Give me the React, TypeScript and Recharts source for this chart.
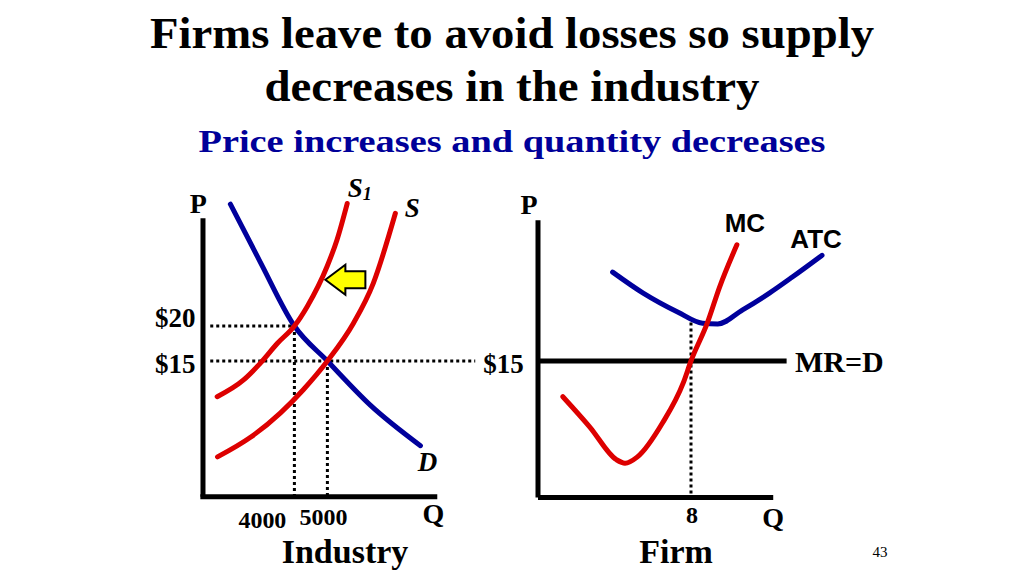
import { LineChart, Line, XAxis, YAxis, ReferenceLine, ReferenceDot } from "recharts";

// industry: quantity vs price
const demand = [
  { q: 2060, p: 37.4 },
  { q: 2970, p: 29.1 },
  { q: 4000, p: 20 },
  { q: 5000, p: 15 },
  { q: 6300, p: 8.7 },
  { q: 7820, p: 2.9 },
];

const supplyNew = [
  { q: 1660, p: 9.9 },
  { q: 2460, p: 12.3 },
  { q: 2970, p: 14.7 },
  { q: 3480, p: 17.5 },
  { q: 4000, p: 20 },
  { q: 4390, p: 22.8 },
  { q: 4990, p: 28.5 },
  { q: 5290, p: 32.3 },
  { q: 5600, p: 37.5 },
];

const supplyOld = [
  { q: 1670, p: 1.3 },
  { q: 2670, p: 4.1 },
  { q: 3580, p: 7.6 },
  { q: 4270, p: 10.9 },
  { q: 5000, p: 15 },
  { q: 5790, p: 20.4 },
  { q: 6390, p: 26.1 },
  { q: 7060, p: 36.1 },
];

// firm: output vs cost
const atc = [
  { q: 3.9, p: 27.7 },
  { q: 5.5, p: 24.7 },
  { q: 7.3, p: 22.0 },
  { q: 8.6, p: 20.4 },
  { q: 9.4, p: 20.3 },
  { q: 10.7, p: 22.3 },
  { q: 12.1, p: 24.7 },
  { q: 13.3, p: 27.0 },
  { q: 14.85, p: 30.1 },
];

const mc = [
  { q: 1.3, p: 9.9 },
  { q: 2.7, p: 5.6 },
  { q: 4.1, p: 0.9 },
  { q: 4.55, p: 0.4 },
  { q: 5.2, p: 1.3 },
  { q: 6.5, p: 6.1 },
  { q: 7.6, p: 11.9 },
  { q: 8, p: 15 },
  { q: 8.85, p: 20.4 },
  { q: 9.5, p: 25.6 },
  { q: 10.4, p: 31.6 },
];

const PRICE_NEW = 20;
const PRICE_OLD = 15;
const Q_NEW = 4000;
const Q_OLD = 5000;
const FIRM_Q = 8;
const ATC_MIN = 20.5;

const RED = "#DD0000";
const BLUE = "#00009C";
const SERIF = "'Liberation Serif', 'Times New Roman', serif";
const SANS = "'Liberation Sans', Arial, sans-serif";

const txt =
  (content: any, extra: any = {}) =>
  (p: any) =>
    (
      <text
        x={p.cx}
        y={p.cy}
        fontFamily={SERIF}
        fontWeight="bold"
        fontSize={27}
        fill="#000"
        textAnchor="middle"
        {...extra}
      >
        {content}
      </text>
    );

const arrow = (p: any) => {
  const { cx, cy } = p;
  const pts = [
    [-20, 0],
    [0, -15],
    [0, -8.5],
    [20, -8.5],
    [20, 8.5],
    [0, 8.5],
    [0, 15],
  ]
    .map(([dx, dy]) => `${cx + dx},${cy + dy}`)
    .join(" ");
  return <polygon points={pts} fill="#FFFF00" stroke="#000" strokeWidth={2} strokeLinejoin="miter" />;
};

const curve = { type: "monotone" as const, dataKey: "p", strokeWidth: 5, dot: false, strokeLinecap: "round" as const, isAnimationActive: false };
const dotted = { stroke: "#000", strokeWidth: 3, strokeDasharray: "3 3" };

function IndustryChart() {
  return (
    <LineChart width={367.2} height={385} margin={{ top: 30, right: 30, bottom: 40, left: 60 }}>
      <XAxis type="number" dataKey="q" domain={[1200, 9600]} hide allowDataOverflow />
      <YAxis type="number" domain={[-5, 40]} hide allowDataOverflow />
      <ReferenceLine segment={[{ x: 1450, y: PRICE_NEW }, { x: Q_NEW, y: PRICE_NEW }]} {...dotted} />
      <ReferenceLine segment={[{ x: Q_NEW, y: PRICE_NEW }, { x: Q_NEW, y: -4.4 }]} {...dotted} />
      <ReferenceLine segment={[{ x: 1450, y: PRICE_OLD }, { x: 9480, y: PRICE_OLD }]} {...dotted} />
      <ReferenceLine segment={[{ x: Q_OLD, y: PRICE_OLD }, { x: Q_OLD, y: -4.4 }]} {...dotted} />
      <ReferenceLine segment={[{ x: 1230, y: -4.4 }, { x: 1230, y: 35.4 }]} stroke="#000" strokeWidth={5} />
      <ReferenceLine segment={[{ x: 1150, y: -4.4 }, { x: 8330, y: -4.4 }]} stroke="#000" strokeWidth={5} ifOverflow="visible" />
      <Line data={demand} stroke={BLUE} {...curve} />
      <Line data={supplyNew} stroke={RED} {...curve} />
      <Line data={supplyOld} stroke={RED} {...curve} />
      <ReferenceDot x={5545} y={26.6} shape={arrow} ifOverflow="visible" />
      <ReferenceDot x={1090} y={36.2} shape={txt("P", { fontSize: 28 })} ifOverflow="visible" />
      <ReferenceDot
        x={5980}
        y={38.4}
        ifOverflow="visible"
        shape={txt(
          <>
            <tspan>S</tspan>
            <tspan fontSize={18} dy={3}>1</tspan>
          </>,
          { fontStyle: "italic" }
        )}
      />
      <ReferenceDot x={7575} y={35.6} shape={txt("S", { fontStyle: "italic" })} ifOverflow="visible" />
      <ReferenceDot x={8030} y={-0.7} shape={txt("D", { fontStyle: "italic" })} ifOverflow="visible" />
      <ReferenceDot x={1000} y={19.8} shape={txt("$20", { textAnchor: "end" })} ifOverflow="visible" />
      <ReferenceDot x={1000} y={13.3} shape={txt("$15", { textAnchor: "end" })} ifOverflow="visible" />
      <ReferenceDot x={3030} y={-8.8} shape={txt("4000", { fontSize: 24 })} ifOverflow="visible" />
      <ReferenceDot x={4880} y={-8.5} shape={txt("5000", { fontSize: 24 })} ifOverflow="visible" />
      <ReferenceDot x={8210} y={-8.1} shape={txt("Q", { fontSize: 28 })} ifOverflow="visible" />
    </LineChart>
  );
}

function FirmChart() {
  return (
    <LineChart width={410.7} height={385} margin={{ top: 30, right: 60, bottom: 40, left: 60 }}>
      <XAxis type="number" dataKey="q" domain={[0, 15.2]} hide allowDataOverflow />
      <YAxis type="number" domain={[-5, 40]} hide allowDataOverflow />
      <ReferenceLine segment={[{ x: FIRM_Q, y: ATC_MIN }, { x: FIRM_Q, y: -4.5 }]} {...dotted} />
      <ReferenceLine segment={[{ x: 0, y: -4.5 }, { x: 0, y: 35.1 }]} stroke="#000" strokeWidth={5} />
      <ReferenceLine segment={[{ x: 0, y: -4.5 }, { x: 12.3, y: -4.5 }]} stroke="#000" strokeWidth={5} />
      <ReferenceLine segment={[{ x: 0, y: PRICE_OLD }, { x: 13.0, y: PRICE_OLD }]} stroke="#000" strokeWidth={5} />
      <Line data={atc} stroke={BLUE} {...curve} />
      <Line data={mc} stroke={RED} {...curve} />
      <ReferenceDot x={-0.47} y={36} shape={txt("P", { fontSize: 28 })} ifOverflow="visible" />
      <ReferenceDot x={-0.75} y={13.3} shape={txt("$15", { textAnchor: "end" })} ifOverflow="visible" />
      <ReferenceDot x={10.82} y={33.4} shape={txt("MC", { fontFamily: SANS, fontSize: 26 })} ifOverflow="visible" />
      <ReferenceDot x={14.54} y={31.1} shape={txt("ATC", { fontFamily: SANS, fontSize: 26 })} ifOverflow="visible" />
      <ReferenceDot x={13.44} y={13.4} shape={txt("MR=D", { textAnchor: "start", fontSize: 30 })} ifOverflow="visible" />
      <ReferenceDot x={8.05} y={-8.2} shape={txt("8", { fontSize: 24 })} ifOverflow="visible" />
      <ReferenceDot x={12.29} y={-8.7} shape={txt("Q", { fontSize: 28 })} ifOverflow="visible" />
    </LineChart>
  );
}

export default function App() {
  return (
    <div style={{ position: "fixed", left: 0, top: 0, width: 1024, height: 576, background: "#fff", overflow: "hidden" }}>
      <svg width={1024} height={576} style={{ position: "absolute", left: 0, top: 0 }}>
        <g fontFamily={SERIF} fontWeight="bold" textAnchor="middle">
          <text x={512} y={48} fontSize={45} textLength={724} lengthAdjust="spacingAndGlyphs">
            Firms leave to avoid losses so supply
          </text>
          <text x={512} y={101} fontSize={45} textLength={495} lengthAdjust="spacingAndGlyphs">
            decreases in the industry
          </text>
          <text x={512} y={152} fontSize={32} fill="#000099" textLength={627} lengthAdjust="spacingAndGlyphs">
            Price increases and quantity decreases
          </text>
          <text x={345} y={563} fontSize={34}>Industry</text>
          <text x={676} y={563} fontSize={34}>Firm</text>
          <text x={880} y={557} fontSize={15} fontWeight="normal">43</text>
        </g>
      </svg>
      <div style={{ position: "absolute", left: 141.6, top: 156 }}>
        <IndustryChart />
      </div>
      <div style={{ position: "absolute", left: 478, top: 156 }}>
        <FirmChart />
      </div>
    </div>
  );
}
